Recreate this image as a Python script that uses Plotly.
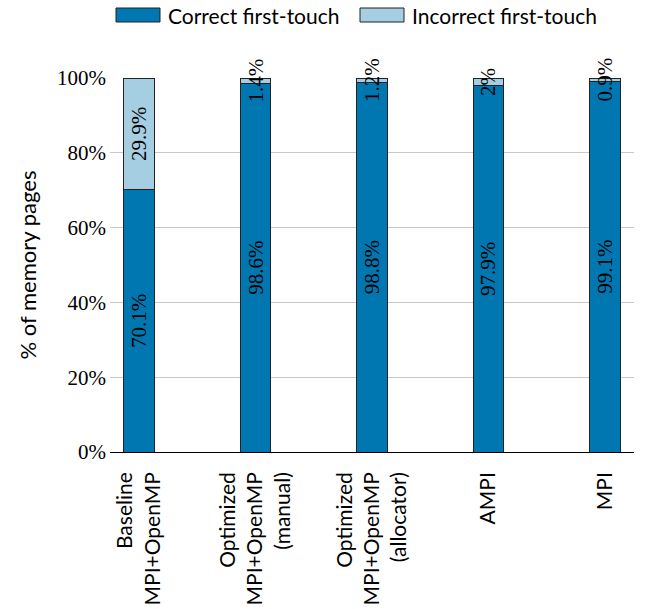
import plotly.graph_objects as go

categories = [
    "Baseline<br>MPI+OpenMP",
    "Optimized<br>MPI+OpenMP<br>(manual)",
    "Optimized<br>MPI+OpenMP<br>(allocator)",
    "AMPI",
    "MPI",
]
correct = [70.1, 98.6, 98.8, 97.9, 99.1]
incorrect = [29.9, 1.4, 1.2, 2, 0.9]
series_names = ["Correct first-touch", "Incorrect first-touch"]
y_ticks = [0, 20, 40, 60, 80, 100]
y_tick_labels = ["0%", "20%", "40%", "60%", "80%", "100%"]

DARK = "#0077b0"
LIGHT = "#a6cee3"
SERIF = "Liberation Serif, Times New Roman, serif"
SANS = "Lato, Open Sans, sans-serif"

fig = go.Figure()
for vals, name, color in [(correct, series_names[0], DARK),
                          (incorrect, series_names[1], LIGHT)]:
    fig.add_trace(go.Bar(
        x=list(range(len(categories))),
        y=vals,
        name=name,
        width=0.26,
        marker=dict(color=color, line=dict(color="#222222", width=1)),
        text=[f"{v}%" for v in vals],
        textposition="inside",
        insidetextanchor="middle",
        textangle=-90,
        constraintext="none",
        cliponaxis=False,
        insidetextfont=dict(family=SERIF, size=21, color="black"),
        hoverinfo="skip",
        showlegend=False,
    ))

# Legend drawn above the plot area
legend_items = [(series_names[0], DARK, 116), (series_names[1], LIGHT, 360)]
for name, color, x0 in legend_items:
    fig.add_shape(type="rect", xref="paper", yref="paper",
                  x0=(x0 - 110) / 524, x1=(x0 + 44 - 110) / 524,
                  y0=(452 - 22) / 374, y1=(452 - 8) / 374,
                  fillcolor=color, line=dict(color="#222222", width=1))
    fig.add_annotation(xref="paper", yref="paper",
                       x=(x0 + 50 - 110) / 524, y=(452 - 15) / 374,
                       text=name, showarrow=False, xanchor="left",
                       yanchor="middle",
                       font=dict(family=SANS, size=21, color="black"))

fig.update_layout(
    barmode="stack",
    width=645, height=609,
    margin=dict(l=110, r=11, t=78, b=157),
    paper_bgcolor="white",
    plot_bgcolor="white",
    xaxis=dict(
        tickmode="array",
        tickvals=list(range(len(categories))),
        ticktext=categories,
        tickangle=-90,
        range=[-0.25, 4.25],
        automargin=False,
        showgrid=False,
        showline=False,
        ticks="",
        ticklabelstandoff=15,
        tickfont=dict(family=SANS, size=21, color="black"),
        zeroline=False,
    ),
    yaxis=dict(
        range=[0, 100],
        automargin=False,
        tickmode="array",
        tickvals=y_ticks,
        ticktext=y_tick_labels,
        showgrid=True,
        gridcolor="#c8c8c8",
        gridwidth=1,
        zeroline=True,
        zerolinecolor="black",
        zerolinewidth=1,
        showline=False,
        ticks="",
        ticklen=0,
        ticklabelstandoff=3,
        tickfont=dict(family=SERIF, size=21, color="black"),
        title=dict(text="% of memory pages", standoff=14,
                   font=dict(family=SANS, size=22, color="black")),
    ),
)

fig.write_html("out.html")
